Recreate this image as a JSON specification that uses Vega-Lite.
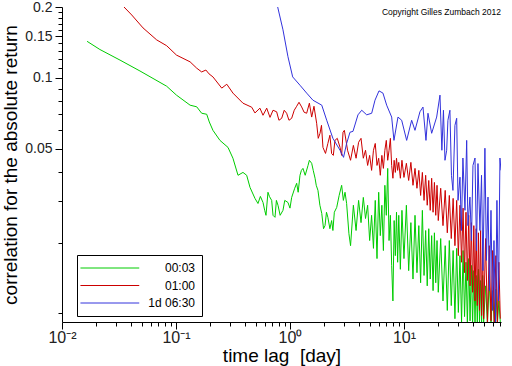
{
"$schema":"https://vega.github.io/schema/vega-lite/v6.json",
"width":439,"height":315,
"autosize":{"type":"none"},
"padding":{"left":62,"top":7,"right":11,"bottom":44},
"background":"white",
"title":{"text":"Copyright Gilles Zumbach 2012","anchor":"end","frame":"group","fontSize":8.5,"fontWeight":"normal","font":"Liberation Sans","color":"black","baseline":"bottom","offset":-25},
"config":{"view":{"stroke":null}},
"data":{"values":[
{"s":"00:03","x":0.0166,"y":0.143},{"s":"00:03","x":0.0215,"y":0.132},{"s":"00:03","x":0.0323,"y":0.119},{"s":"00:03","x":0.0483,"y":0.107},{"s":"00:03","x":0.0828,"y":0.0922},{"s":"00:03","x":0.101,"y":0.0845},{"s":"00:03","x":0.133,"y":0.0766},{"s":"00:03","x":0.152,"y":0.0754},{"s":"00:03","x":0.168,"y":0.0708},{"s":"00:03","x":0.186,"y":0.0701},{"s":"00:03","x":0.196,"y":0.065},{"s":"00:03","x":0.211,"y":0.0599},{"s":"00:03","x":0.243,"y":0.0543},{"s":"00:03","x":0.286,"y":0.0507},{"s":"00:03","x":0.316,"y":0.0456},{"s":"00:03","x":0.35,"y":0.0386},{"s":"00:03","x":0.387,"y":0.0397},{"s":"00:03","x":0.417,"y":0.0386},{"s":"00:03","x":0.446,"y":0.0343},{"s":"00:03","x":0.493,"y":0.0308},{"s":"00:03","x":0.524,"y":0.0293},{"s":"00:03","x":0.55,"y":0.0314},{"s":"00:03","x":0.58,"y":0.0296},{"s":"00:03","x":0.6,"y":0.0274},{"s":"00:03","x":0.616,"y":0.0261},{"s":"00:03","x":0.641,"y":0.0327},{"s":"00:03","x":0.66,"y":0.0314},{"s":"00:03","x":0.691,"y":0.0302},{"s":"00:03","x":0.71,"y":0.0261},{"s":"00:03","x":0.739,"y":0.0256},{"s":"00:03","x":0.76,"y":0.0302},{"s":"00:03","x":0.785,"y":0.0288},{"s":"00:03","x":0.82,"y":0.0261},{"s":"00:03","x":0.868,"y":0.0274},{"s":"00:03","x":0.9,"y":0.0302},{"s":"00:03","x":0.96,"y":0.0296},{"s":"00:03","x":1.0,"y":0.028},{"s":"00:03","x":1.035,"y":0.0311},{"s":"00:03","x":1.1,"y":0.034},{"s":"00:03","x":1.145,"y":0.0357},{"s":"00:03","x":1.18,"y":0.0327},{"s":"00:03","x":1.224,"y":0.0386},{"s":"00:03","x":1.26,"y":0.0405},{"s":"00:03","x":1.3,"y":0.0413},{"s":"00:03","x":1.36,"y":0.0386},{"s":"00:03","x":1.44,"y":0.0425},{"s":"00:03","x":1.48,"y":0.0447},{"s":"00:03","x":1.55,"y":0.0434},{"s":"00:03","x":1.6,"y":0.0405},{"s":"00:03","x":1.66,"y":0.0375},{"s":"00:03","x":1.7,"y":0.035},{"s":"00:03","x":1.76,"y":0.0333},{"s":"00:03","x":1.83,"y":0.0288},{"s":"00:03","x":1.9,"y":0.0266},{"s":"00:03","x":1.97,"y":0.0229},{"s":"00:03","x":2.03,"y":0.0236},{"s":"00:03","x":2.09,"y":0.0269},{"s":"00:03","x":2.15,"y":0.0256},{"s":"00:03","x":2.24,"y":0.0229},{"s":"00:03","x":2.32,"y":0.0248},{"s":"00:03","x":2.38,"y":0.0225},{"s":"00:03","x":2.45,"y":0.0269},{"s":"00:03","x":2.57,"y":0.0282},{"s":"00:03","x":2.7,"y":0.0317},{"s":"00:03","x":2.84,"y":0.035},{"s":"00:03","x":2.94,"y":0.0302},{"s":"00:03","x":3.04,"y":0.0327},{"s":"00:03","x":3.14,"y":0.0293},{"s":"00:03","x":3.29,"y":0.0218},
{"s":"00:03","x":3.4,"y":0.0194},{"s":"00:03","x":3.6,"y":0.0288},{"s":"00:03","x":3.8,"y":0.0225},{"s":"00:03","x":4.0,"y":0.0302},{"s":"00:03","x":4.2,"y":0.0243},{"s":"00:03","x":4.4,"y":0.0311},{"s":"00:03","x":4.6,"y":0.0253},{"s":"00:03","x":4.8,"y":0.0288},{"s":"00:03","x":5.0,"y":0.0204},{"s":"00:03","x":5.2,"y":0.0261},{"s":"00:03","x":5.4,"y":0.0189},{"s":"00:03","x":5.6,"y":0.0302},{"s":"00:03","x":5.8,"y":0.0171},{"s":"00:03","x":6.0,"y":0.0327},{"s":"00:03","x":6.2,"y":0.0214},{"s":"00:03","x":6.4,"y":0.0288},{"s":"00:03","x":6.6,"y":0.0185},{"s":"00:03","x":6.8,"y":0.035},{"s":"00:03","x":7.0,"y":0.0261},{"s":"00:03","x":7.2,"y":0.0413},{"s":"00:03","x":7.4,"y":0.0204},{"s":"00:03","x":7.6,"y":0.0261},{"s":"00:03","x":7.8,"y":0.016},{"s":"00:03","x":8.0,"y":0.0113},{"s":"00:03","x":8.2,"y":0.0248},{"s":"00:03","x":8.4,"y":0.0176},{"s":"00:03","x":8.6,"y":0.0269},{"s":"00:03","x":8.8,"y":0.0165},{"s":"00:03","x":9.0,"y":0.0261},{"s":"00:03","x":9.3,"y":0.0154},{"s":"00:03","x":9.6,"y":0.0274},{"s":"00:03","x":10,"y":0.0171},{"s":"00:03","x":10.5,"y":0.0288},{"s":"00:03","x":11,"y":0.0152},{"s":"00:03","x":11.5,"y":0.0243},{"s":"00:03","x":12,"y":0.014},{"s":"00:03","x":12.5,"y":0.0261},{"s":"00:03","x":13,"y":0.0149},{"s":"00:03","x":13.5,"y":0.0236},{"s":"00:03","x":14,"y":0.0135},{"s":"00:03","x":14.5,"y":0.0274},{"s":"00:03","x":15,"y":0.0145},{"s":"00:03","x":15.5,"y":0.0225},{"s":"00:03","x":16,"y":0.0131},{"s":"00:03","x":16.5,"y":0.0229},{"s":"00:03","x":17,"y":0.014},{"s":"00:03","x":17.5,"y":0.0214},{"s":"00:03","x":18,"y":0.0125},{"s":"00:03","x":18.5,"y":0.022},{"s":"00:03","x":19,"y":0.0135},{"s":"00:03","x":19.5,"y":0.0204},{"s":"00:03","x":20,"y":0.0123},{"s":"00:03","x":21,"y":0.0208},{"s":"00:03","x":22,"y":0.0113},{"s":"00:03","x":23,"y":0.0194},{"s":"00:03","x":24,"y":0.0103},{"s":"00:03","x":25,"y":0.0204},{"s":"00:03","x":26,"y":0.0108},{"s":"00:03","x":27,"y":0.0185},{"s":"00:03","x":28,"y":0.0095},{"s":"00:03","x":29,"y":0.0189},{"s":"00:03","x":30,"y":0.0101},{"s":"00:03","x":31,"y":0.0176},{"s":"00:03","x":32,"y":0.0092},{"s":"00:03","x":33,"y":0.0185},{"s":"00:03","x":34,"y":0.0097},{"s":"00:03","x":35,"y":0.0165},{"s":"00:03","x":36,"y":0.009},{"s":"00:03","x":37,"y":0.0171},{"s":"00:03","x":38,"y":0.0093},{"s":"00:03","x":39,"y":0.016},{"s":"00:03","x":40,"y":0.009},{"s":"00:03","x":41,"y":0.0152},{"s":"00:03","x":42,"y":0.0092},{"s":"00:03","x":43,"y":0.0145},{"s":"00:03","x":44,"y":0.009},{"s":"00:03","x":45,"y":0.0154},{"s":"00:03","x":46,"y":0.0092},{"s":"00:03","x":47,"y":0.0138},{"s":"00:03","x":48,"y":0.009},{"s":"00:03","x":49,"y":0.0145},{"s":"00:03","x":50,"y":0.0092},{"s":"00:03","x":52,"y":0.0131},{"s":"00:03","x":54,"y":0.009},{"s":"00:03","x":56,"y":0.0138},{"s":"00:03","x":58,"y":0.009},{"s":"00:03","x":60,"y":0.0125},{"s":"00:03","x":62,"y":0.009},{"s":"00:03","x":64,"y":0.0127},{"s":"00:03","x":66,"y":0.009},{"s":"00:03","x":68,"y":0.0113},{"s":"00:03","x":70,"y":0.0092},
{"s":"01:00","x":0.031,"y":0.214},{"s":"01:00","x":0.035,"y":0.2},{"s":"01:00","x":0.0409,"y":0.185},{"s":"01:00","x":0.0514,"y":0.163},{"s":"01:00","x":0.0677,"y":0.145},{"s":"01:00","x":0.0828,"y":0.137},{"s":"01:00","x":0.101,"y":0.125},{"s":"01:00","x":0.133,"y":0.117},{"s":"01:00","x":0.152,"y":0.11},{"s":"01:00","x":0.168,"y":0.106},{"s":"01:00","x":0.183,"y":0.108},{"s":"01:00","x":0.195,"y":0.104},{"s":"01:00","x":0.211,"y":0.101},{"s":"01:00","x":0.252,"y":0.0905},{"s":"01:00","x":0.279,"y":0.094},{"s":"01:00","x":0.316,"y":0.0862},{"s":"01:00","x":0.387,"y":0.0781},{"s":"01:00","x":0.4615,"y":0.0751},{"s":"01:00","x":0.493,"y":0.071},{"s":"01:00","x":0.545,"y":0.0744},{"s":"01:00","x":0.58,"y":0.0694},{"s":"01:00","x":0.625,"y":0.0744},{"s":"01:00","x":0.668,"y":0.068},{"s":"01:00","x":0.71,"y":0.0729},{"s":"01:00","x":0.764,"y":0.0718},{"s":"01:00","x":0.8,"y":0.0661},{"s":"01:00","x":0.846,"y":0.0674},{"s":"01:00","x":0.89,"y":0.0729},{"s":"01:00","x":0.935,"y":0.0708},{"s":"01:00","x":0.98,"y":0.0661},{"s":"01:00","x":1.035,"y":0.0674},{"s":"01:00","x":1.09,"y":0.0729},{"s":"01:00","x":1.145,"y":0.0758},{"s":"01:00","x":1.2,"y":0.0788},{"s":"01:00","x":1.266,"y":0.0753},{"s":"01:00","x":1.33,"y":0.0715},{"s":"01:00","x":1.401,"y":0.0708},{"s":"01:00","x":1.48,"y":0.0781},{"s":"01:00","x":1.55,"y":0.0682},{"s":"01:00","x":1.624,"y":0.0758},{"s":"01:00","x":1.714,"y":0.0642},{"s":"01:00","x":1.77,"y":0.0554},{"s":"01:00","x":1.834,"y":0.0582},{"s":"01:00","x":1.89,"y":0.0629},{"s":"01:00","x":1.947,"y":0.0507},{"s":"01:00","x":2.05,"y":0.0478},{"s":"01:00","x":2.15,"y":0.0527},{"s":"01:00","x":2.24,"y":0.0571},{"s":"01:00","x":2.32,"y":0.0477},{"s":"01:00","x":2.4,"y":0.0469},{"s":"01:00","x":2.48,"y":0.0543},{"s":"01:00","x":2.6,"y":0.0554},{"s":"01:00","x":2.75,"y":0.0507},{"s":"01:00","x":2.84,"y":0.0469},{"s":"01:00","x":2.92,"y":0.0588},
{"s":"01:00","x":3.0,"y":0.0599},{"s":"01:00","x":3.2,"y":0.0493},{"s":"01:00","x":3.4,"y":0.0447},{"s":"01:00","x":3.6,"y":0.0517},{"s":"01:00","x":3.8,"y":0.0456},{"s":"01:00","x":4.0,"y":0.0533},{"s":"01:00","x":4.2,"y":0.0554},{"s":"01:00","x":4.4,"y":0.0456},{"s":"01:00","x":4.6,"y":0.0493},{"s":"01:00","x":4.8,"y":0.0425},{"s":"01:00","x":5.0,"y":0.0469},{"s":"01:00","x":5.2,"y":0.0405},{"s":"01:00","x":5.4,"y":0.0493},{"s":"01:00","x":5.6,"y":0.0527},{"s":"01:00","x":5.8,"y":0.0425},{"s":"01:00","x":6.0,"y":0.0456},{"s":"01:00","x":6.2,"y":0.0386},{"s":"01:00","x":6.4,"y":0.0469},{"s":"01:00","x":6.6,"y":0.0413},{"s":"01:00","x":6.8,"y":0.0493},{"s":"01:00","x":7.0,"y":0.0543},{"s":"01:00","x":7.2,"y":0.0447},{"s":"01:00","x":7.4,"y":0.0493},{"s":"01:00","x":7.6,"y":0.0554},{"s":"01:00","x":7.8,"y":0.0425},{"s":"01:00","x":8.0,"y":0.0375},{"s":"01:00","x":8.2,"y":0.0447},{"s":"01:00","x":8.4,"y":0.0397},{"s":"01:00","x":8.6,"y":0.0456},{"s":"01:00","x":8.8,"y":0.0405},{"s":"01:00","x":9.0,"y":0.0438},{"s":"01:00","x":9.3,"y":0.0375},{"s":"01:00","x":9.6,"y":0.0447},{"s":"01:00","x":10,"y":0.0378},{"s":"01:00","x":10.5,"y":0.0434},{"s":"01:00","x":11,"y":0.0367},{"s":"01:00","x":11.5,"y":0.0438},{"s":"01:00","x":12,"y":0.035},{"s":"01:00","x":12.5,"y":0.0413},{"s":"01:00","x":13,"y":0.034},{"s":"01:00","x":13.5,"y":0.0405},{"s":"01:00","x":14,"y":0.0317},{"s":"01:00","x":14.5,"y":0.0397},{"s":"01:00","x":15,"y":0.0302},{"s":"01:00","x":15.5,"y":0.0386},{"s":"01:00","x":16,"y":0.0288},{"s":"01:00","x":16.5,"y":0.0367},{"s":"01:00","x":17,"y":0.0274},{"s":"01:00","x":17.5,"y":0.0375},{"s":"01:00","x":18,"y":0.0269},{"s":"01:00","x":18.5,"y":0.036},{"s":"01:00","x":19,"y":0.0261},{"s":"01:00","x":19.5,"y":0.035},{"s":"01:00","x":20,"y":0.0248},{"s":"01:00","x":21,"y":0.034},{"s":"01:00","x":22,"y":0.0236},{"s":"01:00","x":23,"y":0.0333},{"s":"01:00","x":24,"y":0.022},{"s":"01:00","x":25,"y":0.0317},{"s":"01:00","x":26,"y":0.0208},{"s":"01:00","x":27,"y":0.0308},{"s":"01:00","x":28,"y":0.0194},{"s":"01:00","x":29,"y":0.0302},{"s":"01:00","x":30,"y":0.0176},{"s":"01:00","x":31,"y":0.0288},{"s":"01:00","x":32,"y":0.0165},{"s":"01:00","x":33,"y":0.028},{"s":"01:00","x":34,"y":0.0149},{"s":"01:00","x":35,"y":0.0269},{"s":"01:00","x":36,"y":0.0138},{"s":"01:00","x":37,"y":0.0261},{"s":"01:00","x":38,"y":0.0131},{"s":"01:00","x":39,"y":0.0243},{"s":"01:00","x":40,"y":0.0123},{"s":"01:00","x":41,"y":0.0236},{"s":"01:00","x":42,"y":0.0113},{"s":"01:00","x":43,"y":0.0229},{"s":"01:00","x":44,"y":0.0108},{"s":"01:00","x":45,"y":0.022},{"s":"01:00","x":46,"y":0.0103},{"s":"01:00","x":47,"y":0.0225},{"s":"01:00","x":48,"y":0.0098},{"s":"01:00","x":49,"y":0.0204},{"s":"01:00","x":50,"y":0.0095},{"s":"01:00","x":52,"y":0.0208},{"s":"01:00","x":54,"y":0.0092},{"s":"01:00","x":56,"y":0.0194},{"s":"01:00","x":58,"y":0.0093},{"s":"01:00","x":60,"y":0.0185},{"s":"01:00","x":62,"y":0.009},{"s":"01:00","x":64,"y":0.0176},{"s":"01:00","x":66,"y":0.0092},{"s":"01:00","x":68,"y":0.0165},{"s":"01:00","x":70,"y":0.0095},
{"s":"1d 06:30","x":0.754,"y":0.215},{"s":"1d 06:30","x":0.78,"y":0.2},{"s":"1d 06:30","x":0.868,"y":0.16},{"s":"1d 06:30","x":0.96,"y":0.123},{"s":"1d 06:30","x":1.056,"y":0.101},{"s":"1d 06:30","x":1.224,"y":0.0931},{"s":"1d 06:30","x":1.401,"y":0.0862},{"s":"1d 06:30","x":1.591,"y":0.0804},{"s":"1d 06:30","x":1.9,"y":0.0766},{"s":"1d 06:30","x":2.1,"y":0.0661},{"s":"1d 06:30","x":2.38,"y":0.0554},{"s":"1d 06:30","x":2.75,"y":0.0493},{"s":"1d 06:30","x":2.95,"y":0.046},{"s":"1d 06:30","x":3.14,"y":0.0527},{"s":"1d 06:30","x":3.36,"y":0.0588},{"s":"1d 06:30","x":3.57,"y":0.0593},{"s":"1d 06:30","x":3.95,"y":0.0697},{"s":"1d 06:30","x":4.26,"y":0.0729},{"s":"1d 06:30","x":4.71,"y":0.0697},{"s":"1d 06:30","x":5.21,"y":0.0708},{"s":"1d 06:30","x":5.57,"y":0.0804},{"s":"1d 06:30","x":6.04,"y":0.0881},{"s":"1d 06:30","x":6.54,"y":0.0862},{"s":"1d 06:30","x":7.05,"y":0.0766},{"s":"1d 06:30","x":7.8,"y":0.0682},{"s":"1d 06:30","x":8.17,"y":0.0543},{"s":"1d 06:30","x":8.86,"y":0.0682},{"s":"1d 06:30","x":9.55,"y":0.0661},{"s":"1d 06:30","x":10.56,"y":0.0543},{"s":"1d 06:30","x":11.68,"y":0.0661},{"s":"1d 06:30","x":12.49,"y":0.0599},{"s":"1d 06:30","x":13.81,"y":0.0718},{"s":"1d 06:30","x":14.68,"y":0.0752},{"s":"1d 06:30","x":15.6,"y":0.0543},{"s":"1d 06:30","x":16.24,"y":0.0708},{"s":"1d 06:30","x":17.5,"y":0.0582},{"s":"1d 06:30","x":19.36,"y":0.0682},{"s":"1d 06:30","x":20.7,"y":0.0845},{"s":"1d 06:30","x":21.5,"y":0.0493},{"s":"1d 06:30","x":22.2,"y":0.0729},{"s":"1d 06:30","x":22.9,"y":0.0447},{"s":"1d 06:30","x":23.7,"y":0.0493},{"s":"1d 06:30","x":24.3,"y":0.0661},{"s":"1d 06:30","x":25.3,"y":0.0729},{"s":"1d 06:30","x":26.1,"y":0.0386},{"s":"1d 06:30","x":26.9,"y":0.0333},{"s":"1d 06:30","x":28.0,"y":0.0629},{"s":"1d 06:30","x":29.0,"y":0.0674},{"s":"1d 06:30","x":29.8,"y":0.0302},{"s":"1d 06:30","x":31.0,"y":0.0379},{"s":"1d 06:30","x":31.9,"y":0.0225},{"s":"1d 06:30","x":32.9,"y":0.0457},{"s":"1d 06:30","x":34.3,"y":0.0274},{"s":"1d 06:30","x":35.5,"y":0.0543},{"s":"1d 06:30","x":36.4,"y":0.0236},{"s":"1d 06:30","x":37.9,"y":0.0312},{"s":"1d 06:30","x":39.1,"y":0.0204},{"s":"1d 06:30","x":40.3,"y":0.0425},{"s":"1d 06:30","x":42.0,"y":0.0457},{"s":"1d 06:30","x":43.3,"y":0.0185},{"s":"1d 06:30","x":44.6,"y":0.0433},{"s":"1d 06:30","x":46.4,"y":0.0225},{"s":"1d 06:30","x":47.9,"y":0.0386},{"s":"1d 06:30","x":49.3,"y":0.0152},{"s":"1d 06:30","x":51.3,"y":0.0503},{"s":"1d 06:30","x":52.9,"y":0.0168},{"s":"1d 06:30","x":54.6,"y":0.0312},{"s":"1d 06:30","x":56.2,"y":0.0125},{"s":"1d 06:30","x":58.0,"y":0.0274},{"s":"1d 06:30","x":59.8,"y":0.0103},{"s":"1d 06:30","x":61.6,"y":0.0204},{"s":"1d 06:30","x":63.5,"y":0.0092},{"s":"1d 06:30","x":65.4,"y":0.0302},{"s":"1d 06:30","x":67.5,"y":0.0113},{"s":"1d 06:30","x":69.5,"y":0.0457},{"s":"1d 06:30","x":71.0,"y":0.0405}
]},
"mark":{"type":"line","clip":true,"strokeWidth":1},
"encoding":{
"x":{"field":"x","type":"quantitative","scale":{"type":"log","domain":[0.01,71],"nice":false},
"axis":{"values":[0.01,0.02,0.03,0.04,0.05,0.06,0.07,0.08,0.09,0.1,0.2,0.3,0.4,0.5,0.6,0.7,0.8,0.9,1,2,3,4,5,6,7,8,9,10,20,30,40,50,60,70],
"labelExpr":"datum.value==0.01?'10⁻²':datum.value==0.1?'10⁻¹':datum.value==1?'10⁰':datum.value==10?'10¹':''",
"title":"time lag \u00a0[day]","titleFont":"Liberation Sans","titleFontSize":19,"titleFontWeight":"normal","titleColor":"black","titlePadding":1,
"labelFont":"Liberation Sans","labelFontSize":16,"labelColor":"#222","labelOverlap":false,"labelFlush":false,"labelBound":false,"labelPadding":0,
"tickColor":"black","domainColor":"black","grid":false,
"tickSize":{"condition":{"test":"datum.value==0.01||datum.value==0.1||datum.value==1||datum.value==10","value":7},"value":4}}},
"y":{"field":"y","type":"quantitative","scale":{"type":"log","domain":[0.0092,0.2],"nice":false},
"axis":{"values":[0.01,0.02,0.03,0.04,0.05,0.06,0.07,0.08,0.09,0.1,0.11,0.12,0.13,0.14,0.15,0.16,0.17,0.18,0.19,0.2],
"labelExpr":"datum.value==0.2?'0.2':datum.value==0.15?'0.15':datum.value==0.1?'0.1':datum.value==0.05?'0.05':''",
"title":"correlation for the absolute return","titleFont":"Liberation Sans","titleFontSize":19,"titleFontWeight":"normal","titleColor":"black","titlePadding":4,
"labelFont":"Liberation Sans","labelFontSize":14,"labelColor":"#222","labelOverlap":false,"labelFlush":false,"labelBound":false,"labelPadding":3,
"tickColor":"black","domainColor":"black","grid":false,
"tickSize":{"condition":{"test":"datum.value==0.2||datum.value==0.15||datum.value==0.1||datum.value==0.05","value":7},"value":4}}},
"color":{"field":"s","type":"nominal","scale":{"domain":["00:03","01:00","1d 06:30"],"range":["#00cc00","#cc0000","#3232dc"]},
"legend":{"orient":"none","legendX":15,"legendY":248,"title":null,"symbolType":"M-2.6,0H13.4","symbolSize":54,"symbolStrokeWidth":1,"strokeColor":"black","fillColor":"white","padding":7,"labelFont":"Liberation Sans","labelFontSize":12,"labelColor":"black","labelAlign":"right","labelOffset":99,"labelExpr":"datum.label + '\u00a0\u00a0\u00a0'","rowPadding":5.5}}
}
}
